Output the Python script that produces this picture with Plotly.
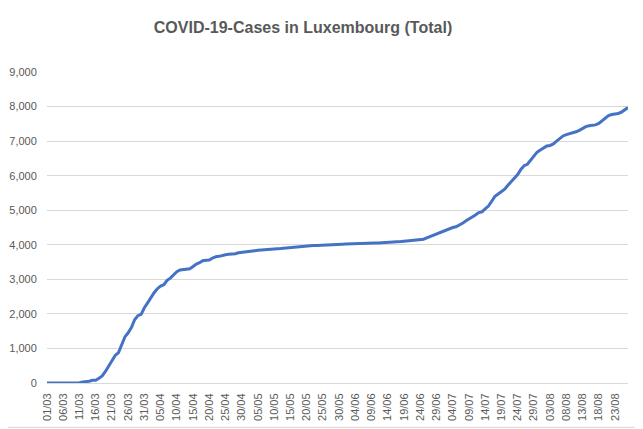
import pandas as pd
import plotly.graph_objects as go

# cumulative cases, one value per day from 01/03
march = [1, 1, 1, 2, 2, 3, 4, 5, 5, 7, 7, 26, 34, 51, 77, 81, 140, 203, 335, 484,
         670, 798, 875, 1099, 1333, 1453, 1605, 1831, 1950, 1988, 2178]
april = [2319, 2487, 2612, 2729, 2804, 2843, 2970, 3034, 3115, 3223, 3270, 3281,
         3292, 3307, 3373, 3444, 3480, 3537, 3550, 3558, 3618, 3654, 3665, 3695,
         3711, 3723, 3729, 3741, 3769, 3784]
may = [3802, 3812, 3824, 3828, 3840, 3851, 3859, 3871, 3877, 3886, 3888, 3894,
       3904, 3915, 3923, 3930, 3930, 3945, 3947, 3958, 3971, 3980, 3981, 3988,
       3990, 3993, 3995, 4001, 4012, 4016, 4018]
june = [4019, 4020, 4024, 4032, 4035, 4039, 4040, 4040, 4043, 4048, 4052, 4055,
        4063, 4070, 4071, 4075, 4085, 4093, 4104, 4113, 4120, 4133, 4135, 4145,
        4160, 4200, 4240, 4265, 4300, 4340]
july = [4390, 4440, 4470, 4500, 4520, 4560, 4620, 4690, 4740, 4790, 4860, 4930,
        4950, 5040, 5120, 5260, 5400, 5470, 5530, 5610, 5720, 5820, 5930, 6030,
        6180, 6290, 6330, 6450, 6590, 6680, 6740]
august = [6800, 6860, 6875, 6920, 7000, 7080, 7150, 7190, 7210, 7240, 7270, 7310,
          7360, 7420, 7445, 7455, 7470, 7510, 7590, 7670, 7740, 7770, 7780, 7800,
          7840, 7910, 7970]

cases = march + april + may + june + july + august
dates = pd.date_range("2020-03-01", periods=len(cases), freq="D")

grey = "#595959"
grid = "#d9d9d9"

# the page body has an 8px margin, so the figure is 8px smaller each way
fig = go.Figure(go.Scatter(x=dates, y=cases, mode="lines",
                           line=dict(color="#4472C4", width=3)))

fig.update_layout(
    width=635, height=421,
    margin=dict(l=39, r=15, t=64, b=46),
    paper_bgcolor="white", plot_bgcolor="white",
    showlegend=False,
    font=dict(family="Liberation Sans", size=11, color=grey),
    title=dict(text="<b>COVID-19-Cases in Luxembourg (Total)</b>",
               x=295 / 635, xref="container", xanchor="center",
               y=1 - 19 / 421, yref="container", yanchor="middle",
               font=dict(family="Liberation Sans", size=16, color=grey)),
)
fig.update_xaxes(
    range=[dates[0], dates[-1]],
    tick0=dates[0], dtick=5 * 86400000, tickformat="%d/%m",
    tickangle=-90, showgrid=False, automargin=False,
    showline=True, linecolor=grid, linewidth=1,
    ticks="outside", ticklen=5, tickcolor="rgba(0,0,0,0)",
)
fig.update_yaxes(
    range=[0, 9000], dtick=1000, tickformat=",", automargin=False,
    showgrid=True, gridcolor=grid, gridwidth=1, zeroline=False,
    ticks="outside", ticklen=7, tickcolor="rgba(0,0,0,0)",
)
# chart border (right and bottom edges)
fig.add_shape(type="line", xref="paper", yref="paper",
              x0=1.0224, x1=1.0224, y0=-0.1426, y1=1.206,
              line=dict(color=grid, width=1))
fig.add_shape(type="line", xref="paper", yref="paper",
              x0=-0.067, x1=1.0224, y0=-0.1426, y1=-0.1426,
              line=dict(color=grid, width=1))

fig.write_html("out.html")
